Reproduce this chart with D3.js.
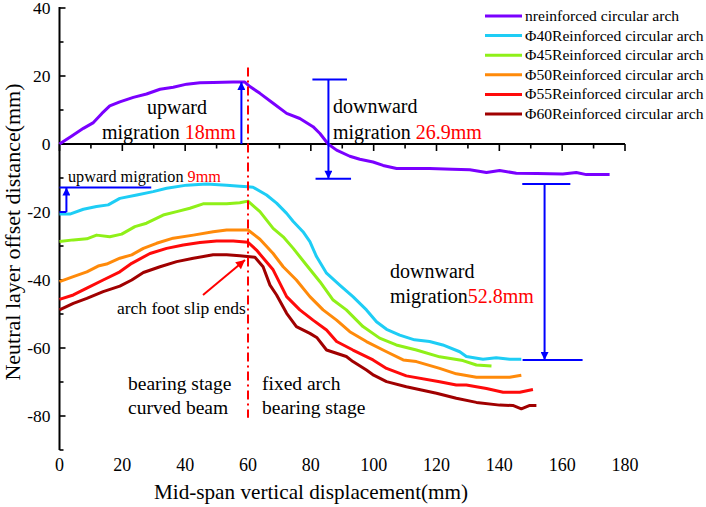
<!DOCTYPE html>
<html><head><meta charset="utf-8">
<script src="https://cdn.jsdelivr.net/npm/d3@7"></script>
<style>
html,body{margin:0;padding:0;background:#fff;}
svg{display:block;font-family:"Liberation Serif","Times New Roman",serif;}
</style></head>
<body>
<svg id="c" width="706" height="507"></svg>
<script>
// ---------- data ----------
const seriesNames = ["nreinforced circular arch","Φ40Reinforced circular arch","Φ45Reinforced circular arch","Φ50Reinforced circular arch","Φ55Reinforced circular arch","Φ60Reinforced circular arch"];
const seriesColors = ["#7a00ff","#1ecdf5","#8ff018","#ff8a0a","#ff0a0a","#a00000"];

const unreinforced = [[0,0],[3.8,2.3],[7.6,4.6],[10.8,6.3],[13.5,9],[16,11.2],[19.2,12.4],[23.5,13.7],[27.7,14.7],[32,16.1],[36.2,16.7],[40.5,17.6],[44.7,18],[48.9,18.1],[55.3,18.2],[59,18.2],[60.6,16.9],[63.8,14.9],[68,12],[72.3,9],[76.5,7.5],[80.7,5.1],[82.9,3.1],[85.5,0],[88.2,-1.8],[92.4,-3.6],[95.6,-4.5],[99.8,-5.3],[103,-6.3],[107.3,-7.2],[117.8,-7.2],[125,-7.4],[130.6,-7.6],[135.9,-8.4],[140.1,-7.8],[145.4,-8.6],[152,-8.7],[160.2,-8.8],[164.5,-8.4],[167.7,-9],[175.1,-9]];
const phi40 = [[0,-20.6],[3.3,-20.6],[7.6,-19.2],[11.8,-18.4],[15.5,-17.9],[19.2,-16],[24.6,-15],[29.8,-14],[34.1,-13],[40.5,-12.1],[46.8,-11.8],[53.2,-12.1],[57.4,-12.4],[60,-12.6],[61.6,-12.7],[65.9,-15],[69.1,-17.4],[72.3,-20.4],[74.4,-22.8],[77.5,-25.8],[79.7,-28.7],[81.8,-33.1],[85,-38],[89.2,-41.5],[93.4,-44.9],[97.7,-48.8],[100.9,-52.3],[104.1,-54.5],[108.3,-56.2],[113,-57.6],[117.8,-58.1],[122,-59.1],[127.4,-61.1],[129.5,-62.5],[134.8,-63.3],[139,-62.9],[143.3,-63.3],[147,-63.3]];
const phi45 = [[0,-28.7],[4.4,-28.2],[8.7,-27.9],[11.8,-26.8],[16,-27.3],[19.8,-26.5],[24,-24.3],[27.7,-23.3],[33,-20.9],[37.3,-19.9],[41.5,-18.9],[45.7,-17.6],[53.2,-17.6],[57.4,-17.3],[60,-16.8],[63.8,-19.9],[68,-24.8],[71.2,-27.3],[74.4,-30.7],[78.6,-35.6],[82.9,-40.5],[87.1,-45.9],[91.3,-48.8],[96.6,-53.7],[101.9,-57.1],[107.2,-59.1],[113.6,-60.6],[121,-62.6],[128.4,-63.7],[132.7,-65],[137.5,-65.3]];
const phi50 = [[0,-40.5],[4.4,-39],[8.7,-37.6],[12.3,-35.9],[15,-35.3],[19.2,-33.6],[23,-32.6],[26.7,-30.7],[30.9,-29.2],[36.2,-27.7],[42.6,-26.8],[48.9,-25.8],[53.2,-25.3],[60,-25.3],[63.8,-28],[68,-32.2],[71.2,-36.1],[75.4,-40],[79.7,-44.9],[83.9,-48.8],[88.2,-51.8],[92.4,-55.2],[97.7,-58.1],[104.1,-61.1],[109.4,-63.5],[113.6,-64],[121,-66],[126.3,-67.6],[132.7,-68.6],[143.3,-68.6],[147,-68]];
const phi55 = [[0,-45.7],[4.4,-44.4],[8.7,-42.4],[13.9,-40],[19.2,-37.6],[23,-35.1],[28.8,-32.2],[34.1,-30.7],[39.4,-29.7],[44.7,-29],[50,-28.5],[55.3,-28.5],[60,-28.9],[62.7,-31.2],[68,-37],[72.3,-44.9],[76.5,-48.8],[80.7,-51.8],[85,-54.7],[88.2,-58.1],[93.4,-60.6],[99.8,-63.5],[104.1,-66],[110.4,-68.2],[121,-69.9],[126.3,-70.9],[129.5,-70.9],[135.9,-71.9],[141.2,-73],[146.5,-73],[150.7,-72.2]];
const phi60 = [[0,-48.8],[4.4,-46.9],[8.7,-45.4],[13.9,-43.4],[19.2,-41.8],[23,-40],[26.7,-37.8],[32,-36.1],[37.3,-34.6],[42.6,-33.6],[48.9,-32.6],[53.2,-32.6],[57.4,-32.9],[62.2,-33.3],[64.8,-36.1],[67,-41.5],[69.1,-44.4],[72.3,-49.8],[75.4,-53.7],[79.7,-55.7],[82,-57],[85,-60.6],[91.3,-62.5],[93.4,-64],[97.7,-66.5],[100,-68],[104.1,-69.9],[110.4,-71.4],[120,-73.3],[126.3,-74.8],[132.7,-76],[140.1,-76.8],[144.3,-76.9],[147,-77.9],[149.7,-76.9],[151.8,-76.9]];
const allSeries = [unreinforced, phi40, phi45, phi50, phi55, phi60];

const xTicks = [0,20,40,60,80,100,120,140,160,180];
const yTicks = [40,20,0,-20,-40,-60,-80];

// ---------- scales ----------
const svg = d3.select("#c");
const x = d3.scaleLinear().domain([0,180]).range([59.5,625]);
const y = d3.scaleLinear().domain([-90,40]).range([450,8]);

const defs = svg.append("defs");
defs.append("marker").attr("id","ab").attr("viewBox","0 0 10 10").attr("refX",10).attr("refY",5)
  .attr("markerWidth",16).attr("markerHeight",8).attr("markerUnits","userSpaceOnUse")
  .attr("orient","auto").append("path").attr("d","M0,0 L10,5 L0,10 Z").attr("fill","#0000ff");
defs.append("marker").attr("id","ar").attr("viewBox","0 0 10 10").attr("refX",10).attr("refY",5)
  .attr("markerWidth",14).attr("markerHeight",9).attr("markerUnits","userSpaceOnUse")
  .attr("orient","auto").append("path").attr("d","M0,0 L10,5 L0,10 Z").attr("fill","#ff0000");

// ---------- axes ----------
const gx = svg.append("g").attr("transform",`translate(0,${y(0)})`);
gx.append("line").attr("x1",x(0)).attr("x2",x(180)).attr("stroke","#000").attr("stroke-width",2);
d3.range(0,181,10).forEach(v=>{
  gx.append("line").attr("x1",x(v)).attr("x2",x(v)).attr("y1",0).attr("y2",v%20===0?7:4.5)
    .attr("stroke","#000").attr("stroke-width",1.6);
});
svg.append("g").selectAll("text").data(xTicks).join("text")
  .attr("x",d=>x(d)).attr("y",471).attr("text-anchor","middle")
  .attr("font-size",18).text(d=>d);

const gy = svg.append("g");
gy.append("line").attr("x1",x(0)).attr("x2",x(0)).attr("y1",y(40)-1).attr("y2",y(-90)).attr("stroke","#000").attr("stroke-width",2);
d3.range(-90,41,10).forEach(v=>{
  gy.append("line").attr("x1",x(0)).attr("x2",x(0)+(v%20===0?6:4)).attr("y1",y(v)).attr("y2",y(v))
    .attr("stroke","#000").attr("stroke-width",1.6);
});
gy.selectAll("text").data(yTicks).join("text")
  .attr("x",x(0)-9).attr("y",d=>y(d)+6).attr("text-anchor","end").attr("font-size",17.5).text(d=>d);

// axis titles
svg.append("text").attr("x",311).attr("y",499).attr("text-anchor","middle").attr("font-size",21.2)
  .text("Mid-span vertical displacement(mm)");
svg.append("text").attr("transform","translate(20,232) rotate(-90)").attr("text-anchor","middle").attr("font-size",22)
  .text("Neutral layer offset distance(mm)");

// ---------- data lines ----------
const line = d3.line().x(d=>x(d[0])).y(d=>y(d[1]));
allSeries.forEach((s,i)=>{
  svg.append("path").attr("d",line(s)).attr("fill","none").attr("stroke",seriesColors[i])
    .attr("stroke-width",3).attr("stroke-linejoin","round");
});

// ---------- annotations ----------
svg.append("line").attr("x1",x(60)).attr("x2",x(60)).attr("y1",y(22.5)).attr("y2",y(-80.5))
  .attr("stroke","#ff0000").attr("stroke-width",2).attr("stroke-dasharray","9,4,2,4");

const blue = "#0000ff";
svg.append("line").attr("x1",x(57.9)).attr("x2",x(57.9)).attr("y1",y(0)).attr("y2",y(18.2))
  .attr("stroke",blue).attr("stroke-width",2).attr("marker-end","url(#ab)");
svg.append("line").attr("x1",x(80.5)).attr("x2",x(91.5)).attr("y1",y(19)).attr("y2",y(19)).attr("stroke",blue).attr("stroke-width",2);
svg.append("line").attr("x1",x(81.5)).attr("x2",x(92.8)).attr("y1",y(-10.2)).attr("y2",y(-10.2)).attr("stroke",blue).attr("stroke-width",2);
svg.append("line").attr("x1",x(85.6)).attr("x2",x(85.6)).attr("y1",y(19)).attr("y2",y(-10.2))
  .attr("stroke",blue).attr("stroke-width",2).attr("marker-end","url(#ab)");
svg.append("line").attr("x1",x(0)).attr("x2",x(29.2)).attr("y1",y(-12.8)).attr("y2",y(-12.8)).attr("stroke",blue).attr("stroke-width",2);
svg.append("line").attr("x1",x(0)).attr("x2",x(2.2)).attr("y1",y(-20)).attr("y2",y(-20)).attr("stroke",blue).attr("stroke-width",2);
svg.append("line").attr("x1",x(2.2)).attr("x2",x(2.2)).attr("y1",y(-20)).attr("y2",y(-12.8))
  .attr("stroke",blue).attr("stroke-width",2).attr("marker-end","url(#ab)");
svg.append("line").attr("x1",x(147.3)).attr("x2",x(162.6)).attr("y1",y(-11.8)).attr("y2",y(-11.8)).attr("stroke",blue).attr("stroke-width",2);
svg.append("line").attr("x1",x(147.4)).attr("x2",x(166.5)).attr("y1",y(-63.5)).attr("y2",y(-63.5)).attr("stroke",blue).attr("stroke-width",2);
svg.append("line").attr("x1",x(154.4)).attr("x2",x(154.4)).attr("y1",y(-11.8)).attr("y2",y(-63.5))
  .attr("stroke",blue).attr("stroke-width",2).attr("marker-end","url(#ab)");
svg.append("line").attr("x1",203).attr("x2",245).attr("y1",295).attr("y2",260)
  .attr("stroke","#ff0000").attr("stroke-width",2).attr("marker-end","url(#ar)");

function txt(xp,yp,parts,size,anchor){
  const t = svg.append("text").attr("x",xp).attr("y",yp).attr("font-size",size).attr("text-anchor",anchor||"start");
  parts.forEach(p=>t.append("tspan").attr("fill",p[1]||"#000").text(p[0]));
}
txt(177,114,[["upward"]],20,"middle");
txt(102,139,[["migration "],["18mm","#ff0000"]],20);
txt(333,113,[["downward"]],20);
txt(333,139,[["migration "],["26.9mm","#ff0000"]],20);
txt(68,182,[["upward migration "],["9mm","#ff0000"]],16.2);
txt(390,278,[["downward"]],20);
txt(390,303,[["migration"],["52.8mm","#ff0000"]],20);
txt(117,314,[["arch foot slip ends"]],17.5);
txt(128,390,[["bearing stage"]],19.5);
txt(128,414,[["curved beam"]],19.5);
txt(262,390,[["fixed arch"]],19.5);
txt(262,414,[["bearing stage"]],19.5);

// ---------- legend ----------
const lg = svg.append("g");
seriesNames.forEach((n,i)=>{
  const yy = 16 + i*19.6;
  lg.append("line").attr("x1",485).attr("x2",522).attr("y1",yy).attr("y2",yy).attr("stroke",seriesColors[i]).attr("stroke-width",3);
  lg.append("text").attr("x",525).attr("y",yy+5).attr("font-size",15.6).text(n);
});
</script>
</body></html>
